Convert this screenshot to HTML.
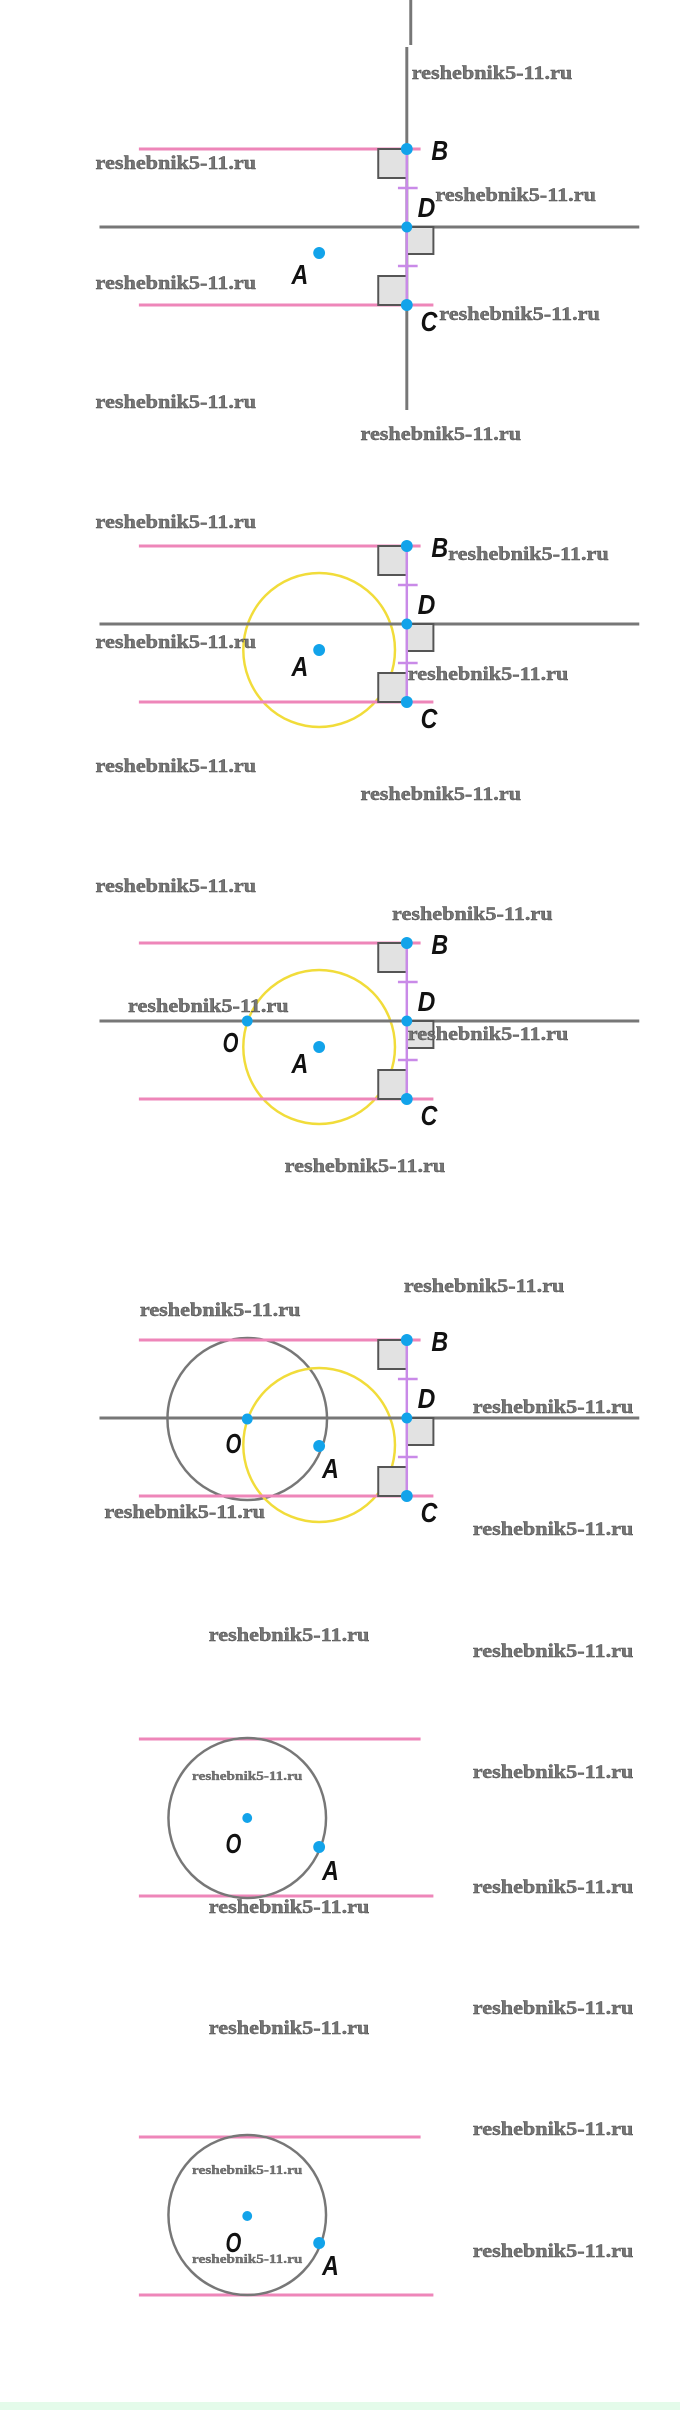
<!DOCTYPE html>
<html><head><meta charset="utf-8"><style>
html,body{margin:0;padding:0;background:#fff;width:680px;height:2436px;overflow:hidden}
svg{display:block}
.w{font-family:"Liberation Serif",serif;font-weight:bold;font-size:19px;fill:#777;stroke:#444;stroke-width:0.4}
.ws{font-family:"Liberation Serif",serif;font-weight:bold;font-size:13px;fill:#777;stroke:#444;stroke-width:0.3}
.l{font-family:"Liberation Sans",sans-serif;font-style:italic;font-weight:bold;font-size:28px;fill:#111}
.pk{stroke:#ee86b9;stroke-width:3}
.gr{stroke:#777;stroke-width:3}
.pu{stroke:#c98ae8;stroke-width:2.5}
.bx{fill:#e2e2e2;stroke:#555;stroke-width:2}
.dt{fill:#12a3ea}
</style></head><body>
<svg width="680" height="2436" viewBox="0 0 680 2436" xmlns="http://www.w3.org/2000/svg">
<defs>
<g id="stack">
<line class="gr" x1="101" y1="78" x2="649" y2="78"/>
<line class="pk" x1="141" y1="0" x2="427" y2="0"/>
<line class="pk" x1="141" y1="156" x2="440" y2="156"/>
<rect class="bx" x="384" y="0" width="29" height="29"/>
<rect class="bx" x="413" y="78" width="27" height="27"/>
<rect class="bx" x="384" y="127" width="29" height="29"/>
<line class="pu" x1="413" y1="0" x2="413" y2="156"/>
<line class="pu" x1="404" y1="39" x2="424" y2="39"/>
<line class="pu" x1="404" y1="117" x2="424" y2="117"/>
<circle class="dt" cx="413" cy="0" r="6"/>
<circle class="dt" cx="413" cy="78" r="5.5"/>
<circle class="dt" cx="413" cy="156" r="6"/>
<text class="l" x="438" y="11" textLength="17" lengthAdjust="spacingAndGlyphs">B</text>
<text class="l" x="424" y="68" textLength="18" lengthAdjust="spacingAndGlyphs">D</text>
<text class="l" x="427" y="182" textLength="17" lengthAdjust="spacingAndGlyphs">C</text>
</g>
</defs>
<g transform="scale(0.985,1)">
<line class="gr" x1="417" y1="0" x2="417" y2="45"/>
<line class="gr" x1="413" y1="47" x2="413" y2="410"/>
<use href="#stack" transform="translate(0,149)"/>
<circle class="dt" cx="324" cy="253" r="6"/>
<text class="l" x="296" y="284" textLength="17" lengthAdjust="spacingAndGlyphs">A</text>

<circle cx="324" cy="650" r="77" fill="none" stroke="#f1dc3a" stroke-width="2.5"/>
<use href="#stack" transform="translate(0,546)"/>
<circle class="dt" cx="324" cy="650" r="6"/>
<text class="l" x="296" y="676" textLength="17" lengthAdjust="spacingAndGlyphs">A</text>

<circle cx="324" cy="1047" r="77" fill="none" stroke="#f1dc3a" stroke-width="2.5"/>
<use href="#stack" transform="translate(0,943)"/>
<circle class="dt" cx="251" cy="1021" r="5.5"/>
<text class="l" x="226" y="1052" textLength="16" lengthAdjust="spacingAndGlyphs">O</text>
<circle class="dt" cx="324" cy="1047" r="6"/>
<text class="l" x="296" y="1073" textLength="17" lengthAdjust="spacingAndGlyphs">A</text>

<circle cx="251" cy="1419" r="81" fill="none" stroke="#777" stroke-width="2.5"/>
<circle cx="324" cy="1445" r="77" fill="none" stroke="#f1dc3a" stroke-width="2.5"/>
<use href="#stack" transform="translate(0,1340)"/>
<circle class="dt" cx="251" cy="1419" r="5.5"/>
<text class="l" x="229" y="1453" textLength="16" lengthAdjust="spacingAndGlyphs">O</text>
<circle class="dt" cx="324" cy="1446" r="6"/>
<text class="l" x="327" y="1478" textLength="17" lengthAdjust="spacingAndGlyphs">A</text>

<line class="pk" x1="141" y1="1739" x2="427" y2="1739"/>
<line class="pk" x1="141" y1="1896" x2="440" y2="1896"/>
<circle cx="251" cy="1818" r="80" fill="none" stroke="#777" stroke-width="2.5"/>
<circle class="dt" cx="251" cy="1818" r="5"/>
<text class="l" x="229" y="1853" textLength="16" lengthAdjust="spacingAndGlyphs">O</text>
<circle class="dt" cx="324" cy="1847" r="6"/>
<text class="l" x="327" y="1880" textLength="17" lengthAdjust="spacingAndGlyphs">A</text>
<text class="ws" x="251" y="1780" text-anchor="middle" textLength="112" lengthAdjust="spacingAndGlyphs">reshebnik5-11.ru</text>

<line class="pk" x1="141" y1="2137" x2="427" y2="2137"/>
<line class="pk" x1="141" y1="2295" x2="440" y2="2295"/>
<circle cx="251" cy="2215" r="80" fill="none" stroke="#777" stroke-width="2.5"/>
<circle class="dt" cx="251" cy="2216" r="5"/>
<text class="l" x="229" y="2252" textLength="16" lengthAdjust="spacingAndGlyphs">O</text>
<circle class="dt" cx="324" cy="2243" r="6"/>
<text class="l" x="327" y="2275" textLength="17" lengthAdjust="spacingAndGlyphs">A</text>
<text class="ws" x="251" y="2174" text-anchor="middle" textLength="112" lengthAdjust="spacingAndGlyphs">reshebnik5-11.ru</text>
<text class="ws" x="251" y="2263" text-anchor="middle" textLength="112" lengthAdjust="spacingAndGlyphs">reshebnik5-11.ru</text>

<g class="w">
<text x="418" y="79" textLength="163" lengthAdjust="spacingAndGlyphs">reshebnik5-11.ru</text>
<text x="97" y="169" textLength="163" lengthAdjust="spacingAndGlyphs">reshebnik5-11.ru</text>
<text x="442" y="201" textLength="163" lengthAdjust="spacingAndGlyphs">reshebnik5-11.ru</text>
<text x="97" y="289" textLength="163" lengthAdjust="spacingAndGlyphs">reshebnik5-11.ru</text>
<text x="446" y="320" textLength="163" lengthAdjust="spacingAndGlyphs">reshebnik5-11.ru</text>
<text x="97" y="408" textLength="163" lengthAdjust="spacingAndGlyphs">reshebnik5-11.ru</text>
<text x="366" y="440" textLength="163" lengthAdjust="spacingAndGlyphs">reshebnik5-11.ru</text>
<text x="97" y="528" textLength="163" lengthAdjust="spacingAndGlyphs">reshebnik5-11.ru</text>
<text x="455" y="560" textLength="163" lengthAdjust="spacingAndGlyphs">reshebnik5-11.ru</text>
<text x="97" y="648" textLength="163" lengthAdjust="spacingAndGlyphs">reshebnik5-11.ru</text>
<text x="414" y="680" textLength="163" lengthAdjust="spacingAndGlyphs">reshebnik5-11.ru</text>
<text x="97" y="772" textLength="163" lengthAdjust="spacingAndGlyphs">reshebnik5-11.ru</text>
<text x="366" y="800" textLength="163" lengthAdjust="spacingAndGlyphs">reshebnik5-11.ru</text>
<text x="97" y="892" textLength="163" lengthAdjust="spacingAndGlyphs">reshebnik5-11.ru</text>
<text x="398" y="920" textLength="163" lengthAdjust="spacingAndGlyphs">reshebnik5-11.ru</text>
<text x="130" y="1012" textLength="163" lengthAdjust="spacingAndGlyphs">reshebnik5-11.ru</text>
<text x="414" y="1040" textLength="163" lengthAdjust="spacingAndGlyphs">reshebnik5-11.ru</text>
<text x="289" y="1172" textLength="163" lengthAdjust="spacingAndGlyphs">reshebnik5-11.ru</text>
<text x="410" y="1292" textLength="163" lengthAdjust="spacingAndGlyphs">reshebnik5-11.ru</text>
<text x="142" y="1316" textLength="163" lengthAdjust="spacingAndGlyphs">reshebnik5-11.ru</text>
<text x="480" y="1413" textLength="163" lengthAdjust="spacingAndGlyphs">reshebnik5-11.ru</text>
<text x="106" y="1518" textLength="163" lengthAdjust="spacingAndGlyphs">reshebnik5-11.ru</text>
<text x="480" y="1535" textLength="163" lengthAdjust="spacingAndGlyphs">reshebnik5-11.ru</text>
<text x="212" y="1641" textLength="163" lengthAdjust="spacingAndGlyphs">reshebnik5-11.ru</text>
<text x="480" y="1657" textLength="163" lengthAdjust="spacingAndGlyphs">reshebnik5-11.ru</text>
<text x="480" y="1778" textLength="163" lengthAdjust="spacingAndGlyphs">reshebnik5-11.ru</text>
<text x="480" y="1893" textLength="163" lengthAdjust="spacingAndGlyphs">reshebnik5-11.ru</text>
<text x="212" y="1913" textLength="163" lengthAdjust="spacingAndGlyphs">reshebnik5-11.ru</text>
<text x="480" y="2014" textLength="163" lengthAdjust="spacingAndGlyphs">reshebnik5-11.ru</text>
<text x="212" y="2034" textLength="163" lengthAdjust="spacingAndGlyphs">reshebnik5-11.ru</text>
<text x="480" y="2135" textLength="163" lengthAdjust="spacingAndGlyphs">reshebnik5-11.ru</text>
<text x="480" y="2257" textLength="163" lengthAdjust="spacingAndGlyphs">reshebnik5-11.ru</text>
</g>
</g>
<rect x="0" y="2402" width="680" height="8" fill="#e4fbea"/>
</svg>
</body></html>
